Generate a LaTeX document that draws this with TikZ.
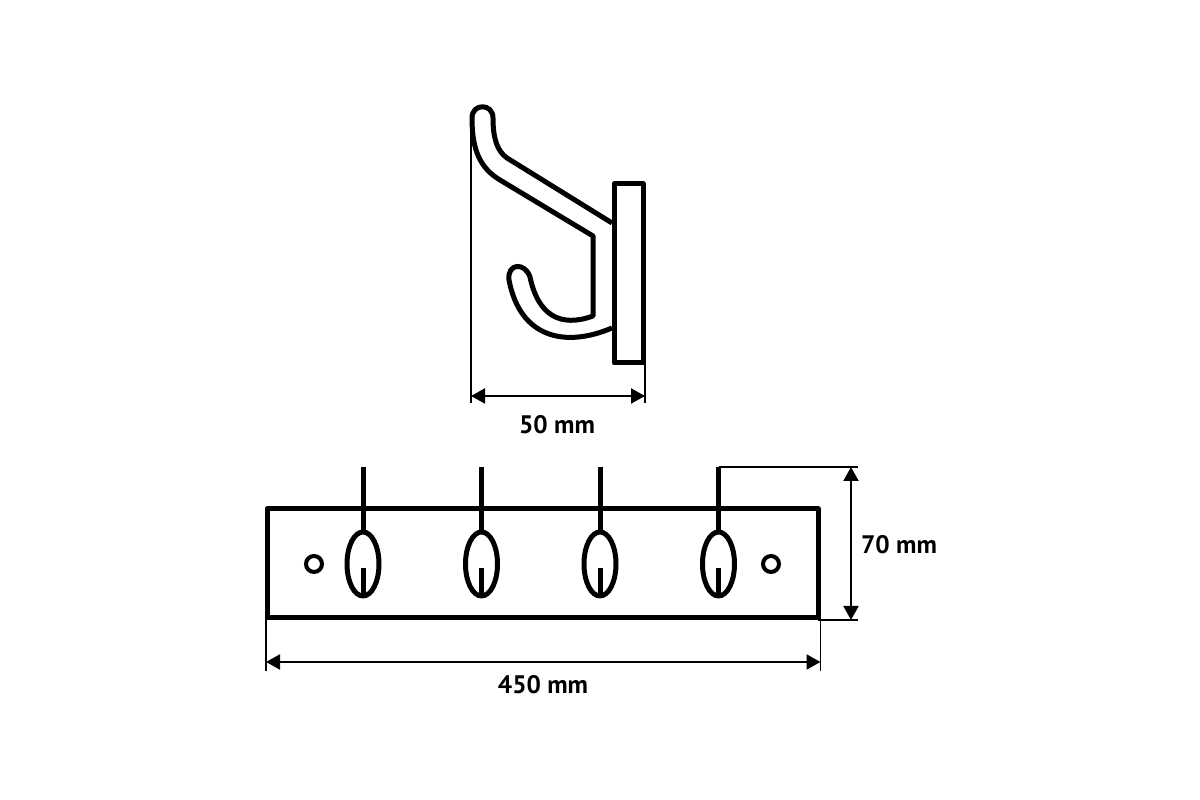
\documentclass[tikz,border=0pt]{standalone}
\usepackage{fontspec}
\setmainfont{PT Sans}
\usetikzlibrary{arrows.meta}
\tikzset{
heavy/.style={line width=0.05cm, line join=round},
thin/.style={line width=0.015cm},
dimline/.style={line width=0.02cm, {Triangle[length=0.14cm,width=0.15cm]}-{Triangle[length=0.14cm,width=0.15cm]}},
dimtext/.style={font=\bfseries\fontsize{7.2}{9}\selectfont, inner sep=0},
slot/.pic={
  \draw[heavy] (0,0) -- (0,-0.65);
  \draw[heavy] (0,-0.97) ellipse [x radius=0.16, y radius=0.32];
  \draw[heavy] (0,-1.01) -- (0,-1.29);
  }
}
\begin{document}
\begin{tikzpicture}
\useasboundingbox (0,0) rectangle (12,8);
\draw[heavy] (4.72,6.82) .. controls (4.72,6.97) and (4.93,6.97) .. (4.93,6.82)
      .. controls (4.93,6.62) and (4.97,6.49) .. (5.07,6.42) -- (6.12,5.77);
\draw[heavy] (4.72,6.82) .. controls (4.72,6.5) and (4.8,6.32) .. (5.00,6.2)
      -- (5.93,5.64) -- (5.93,4.84) .. controls (5.6,4.72) and (5.38,4.85) .. (5.30,5.23)
      .. controls (5.25,5.38) and (5.07,5.37) .. (5.09,5.2)
      .. controls (5.2,4.62) and (5.65,4.52) .. (6.12,4.72);
\draw[heavy] (6.14,4.37) rectangle (6.43,6.16);
\draw[heavy] (2.67,1.82) rectangle (8.18,2.91);
\pic at (3.63,3.33) {slot};
\pic at (4.815,3.33) {slot};
\pic at (6.00,3.33) {slot};
\pic at (7.185,3.33) {slot};
\draw[line width=0.04cm] (3.14,2.36) circle [radius=0.08];
\draw[line width=0.04cm] (7.71,2.36) circle [radius=0.08];
\coordinate (depthL) at (4.71,6.8);
\coordinate (depthLb) at (4.71,3.97);
\coordinate (depthR) at (6.45,4.6);
\coordinate (depthRb) at (6.45,3.97);
\coordinate (depthA) at (4.71,4.04);
\coordinate (depthB) at (6.45,4.04);
\draw[thin] (depthL) -- (depthLb);
\draw[thin] (depthR) -- (depthRb);
\draw[dimline] (depthA) -- (depthB);
\node[dimtext] (depthlabel) at (5.57,3.75) {50 mm};
\coordinate (widthL) at (2.66,1.82);
\coordinate (widthLb) at (2.66,1.29);
\coordinate (widthR) at (8.205,1.82);
\coordinate (widthRb) at (8.205,1.29);
\coordinate (widthA) at (2.66,1.38);
\coordinate (widthB) at (8.205,1.38);
\draw[thin] (widthL) -- (widthLb);
\draw[thin] (widthR) -- (widthRb);
\draw[dimline] (widthA) -- (widthB);
\node[dimtext] (widthlabel) at (5.43,1.15) {450 mm};
\coordinate (highT) at (7.185,3.33);
\coordinate (highTr) at (8.58,3.33);
\coordinate (highB) at (8.18,1.8);
\coordinate (highBr) at (8.58,1.8);
\coordinate (highA) at (8.51,3.33);
\coordinate (highC) at (8.51,1.8);
\draw[thin] (highT) -- (highTr);
\draw[thin] (highB) -- (highBr);
\draw[dimline] (highA) -- (highC);
\node[dimtext] (highlabel) at (8.99,2.55) {70 mm};
\end{tikzpicture}
\end{document}
